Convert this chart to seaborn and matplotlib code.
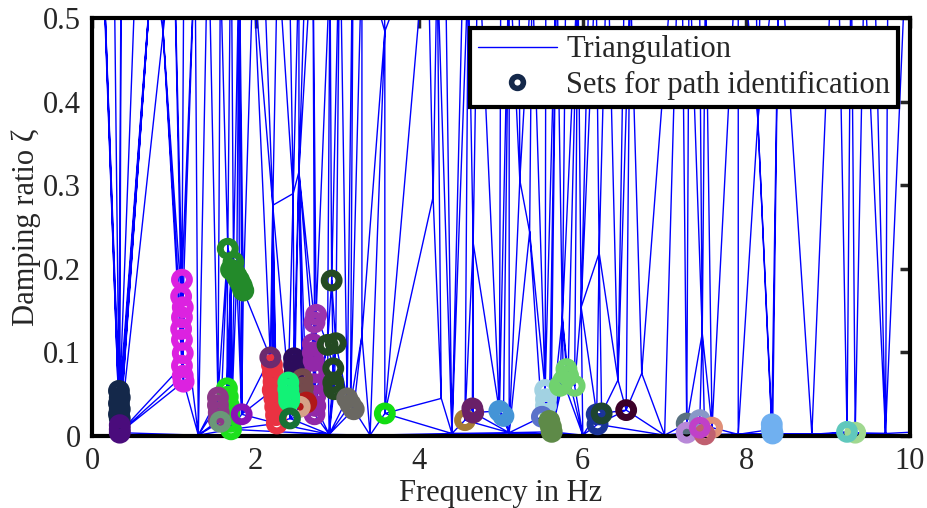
import numpy as np
import matplotlib
matplotlib.use("Agg")
import matplotlib.pyplot as plt
import matplotlib.tri as mtri
from matplotlib.lines import Line2D
import pandas as pd
import seaborn as sns

# colour of each set for path identification (index = set id)
set_colors = [
    "#14284a", "#4a0c7c", "#dc22e0", "#238a2a", "#1ee01e", "#8e3888", "#6a9878",
    "#8a12b6", "#ea3242", "#6c2a6e", "#2c0c5c", "#9228a8", "#744a4c", "#b01818",
    "#d6a288", "#12f276", "#167234", "#9c34ac", "#244a22", "#6a6862", "#12dd12",
    "#a67c36", "#6a2068", "#4494d6", "#a2d2e2", "#5a72ca", "#5e8a48", "#70d26e",
    "#1a3498", "#1e4530", "#3c0028", "#587080", "#b888d8", "#8898c8", "#e09078",
    "#c06070", "#c040c8", "#70b0f0", "#a0d890", "#60c8bc",
]

# poles of the sets (set id, frequency in Hz, damping ratio)
set_id = [0, 0, 0, 0, 0, 0,
          1, 1, 1,
          2, 2, 2, 2, 2, 2, 2, 2, 2, 2,
          3, 3, 3, 3, 3, 3, 3, 3,
          4, 4, 4, 4, 4, 4,
          5, 5, 5, 5,
          6, 7,
          8, 8, 8, 8, 8, 8, 8, 8,
          9,
          10, 10, 10,
          11, 11, 11, 11, 11, 11, 11, 11,
          12, 12, 12,
          13, 14,
          15, 15, 15, 15,
          16,
          17, 17,
          18, 18, 18, 18, 18, 18,
          19, 19, 19,
          20, 21, 22, 22, 23, 23,
          24, 24, 24,
          25,
          26, 26, 26,
          27, 27, 27, 27, 27,
          28, 28, 29, 30, 31, 32, 33, 34, 35, 36,
          37, 37, 37,
          38, 39]
set_freq = [0.33, 0.34, 0.33, 0.34, 0.33, 0.34,
            0.34, 0.34, 0.34,
            1.10, 1.09, 1.11, 1.10, 1.09, 1.10, 1.11, 1.10, 1.11, 1.12,
            1.66, 1.73, 1.70, 1.74, 1.77, 1.80, 1.83, 1.85,
            1.65, 1.66, 1.67, 1.68, 1.69, 1.70,
            1.54, 1.54, 1.55, 1.55,
            1.57, 1.83,
            2.20, 2.21, 2.22, 2.21, 2.23, 2.24, 2.25, 2.26,
            2.18,
            2.47, 2.47, 2.48,
            2.70, 2.70, 2.71, 2.72, 2.72, 2.73, 2.73, 2.72,
            2.57, 2.58, 2.58,
            2.62, 2.54,
            2.40, 2.40, 2.41, 2.41,
            2.42,
            2.74, 2.72,
            2.93, 2.88, 2.98, 2.95, 2.95, 2.96,
            3.12, 3.16, 3.20,
            3.58, 4.56, 4.65, 4.66, 4.98, 5.03,
            5.54, 5.55, 5.55,
            5.50,
            5.59, 5.61, 5.62,
            5.80, 5.82, 5.76, 5.72, 5.90,
            6.17, 6.18, 6.23, 6.53, 7.27, 7.27, 7.43, 7.58, 7.49, 7.43,
            8.31, 8.31, 8.32,
            9.33, 9.23]
set_damp = [0.054, 0.046, 0.039, 0.032, 0.026, 0.021,
            0.013, 0.008, 0.004,
            0.187, 0.167, 0.154, 0.142, 0.128, 0.115, 0.099, 0.084, 0.072, 0.065,
            0.224, 0.208, 0.199, 0.196, 0.191, 0.186, 0.180, 0.174,
            0.057, 0.047, 0.037, 0.027, 0.017, 0.008,
            0.046, 0.037, 0.028, 0.019,
            0.017, 0.026,
            0.085, 0.075, 0.065, 0.055, 0.045, 0.035, 0.025, 0.015,
            0.094,
            0.093, 0.085, 0.077,
            0.110, 0.100, 0.090, 0.076, 0.062, 0.048, 0.036, 0.026,
            0.068, 0.058, 0.048,
            0.040, 0.035,
            0.064, 0.056, 0.048, 0.042,
            0.021,
            0.145, 0.136,
            0.186, 0.109, 0.111, 0.081, 0.064, 0.056,
            0.045, 0.038, 0.032,
            0.027, 0.019, 0.033, 0.028, 0.030, 0.024,
            0.055, 0.044, 0.036,
            0.023,
            0.018, 0.011, 0.005,
            0.080, 0.072, 0.066, 0.060, 0.060,
            0.026, 0.014, 0.027, 0.031, 0.015, 0.004, 0.019, 0.010, 0.002, 0.010,
            0.014, 0.008, 0.003,
            0.004, 0.005]

# remaining (spurious) poles that only enter the triangulation:
# a few inside the view, a low row near zero damping, and the many above 0.5
spur_freq = [0.87, 2.21, 2.46, 2.53, 3.58, 4.17, 4.66, 5.23, 5.35, 6.20, 5.75,
             5.98, 7.46, 6.72, 6.43, 8.14, 4.27, 3.30,
             1.30, 2.90, 3.40, 4.40, 5.10, 6.00, 7.00, 7.90, 8.80, 9.70,
             10.30, 10.50, 10.90,
             0.05, 0.12, 0.18, 0.22, 0.27, 0.31, 0.36, 0.45, 0.55, 0.68,
             0.74, 0.80, 0.86, 0.93, 1.00, 1.06, 1.13, 1.20, 1.26, 1.33,
             1.42, 1.47, 1.52, 1.57, 1.62, 1.70, 1.76, 1.80, 1.86, 1.92,
             1.97, 2.02, 2.08, 2.14, 2.20, 2.27, 2.34, 2.40, 2.47, 2.53,
             2.58, 2.64, 2.70, 2.77, 2.85, 2.91, 2.97, 3.03, 3.10, 3.20,
             3.30, 3.42, 3.55,
             4.10, 4.16, 4.22, 4.30, 4.45, 4.56, 4.60, 4.66, 4.72, 4.80,
             4.90, 5.00, 5.10, 5.17, 5.22, 5.30, 5.38, 5.46, 5.55, 5.62,
             5.68, 5.74, 5.80, 5.88, 5.94, 6.02, 6.10, 6.16, 6.22, 6.30,
             6.40, 6.52, 6.58,
             7.20, 7.30, 7.36, 7.42, 7.50, 7.56, 7.70, 7.90, 8.05, 8.12,
             8.20, 8.40, 9.10, 9.28, 9.36, 9.44, 9.52, 9.75,
             10.05, 10.40, 10.80, 11.20]
spur_damp = [0.483, 0.276, 0.290, 0.316, 0.484, 0.286, 0.231, 0.306, 0.244, 0.219, 0.141,
             0.154, 0.123, 0.075, 0.067, 0.378, 0.045, 0.120,
             0.001, 0.002, 0.001, 0.003, 0.004, 0.001, 0.001, 0.002, 0.002, 0.003,
             0.006, 0.060, 0.040,
             0.80, 0.62, 0.95, 0.70, 0.58, 0.85, 0.66, 0.92, 0.60, 0.75,
             0.57, 0.90, 0.65, 0.78, 0.60, 0.95, 0.68, 0.82, 0.58, 0.74,
             0.62, 0.90, 0.70, 0.56, 0.85, 0.64, 0.78, 0.58, 0.92, 0.66,
             0.56, 0.80, 0.62, 0.95, 0.70, 0.58, 0.86, 0.64, 0.75, 0.57,
             0.90, 0.66, 0.60, 0.84, 0.68, 0.56, 0.79, 0.62, 0.92, 0.70,
             0.58, 0.82, 0.65,
             0.62, 0.88, 0.57, 0.72, 0.95, 0.66, 0.56, 0.82, 0.60, 0.75,
             0.92, 0.64, 0.58, 0.85, 0.62, 0.70, 0.56, 0.90, 0.66, 0.78,
             0.58, 0.86, 0.62, 0.72, 0.56, 0.92, 0.64, 0.57, 0.82, 0.60,
             0.76, 0.62, 0.55,
             0.70, 0.58, 0.85, 0.62, 0.56, 0.76, 0.92, 0.62, 0.80, 0.53,
             0.70, 0.60, 0.70, 0.60, 0.85, 0.56, 0.75, 0.95,
             0.80, 0.65, 0.90, 0.70]

ZETA_WEIGHT = 0.5  # damping axis weight used for the Delaunay step

sns.set_style("white")
plt.rcParams["font.family"] = ["Liberation Serif", "DejaVu Serif"]
plt.rcParams["font.size"] = 22

fig = plt.figure(figsize=(9.27, 5.08), dpi=100)
ax = fig.add_axes([0.0992, 0.1417, 0.8825, 0.8229])

# triangulation over all poles (Delaunay on weighted coords, drawn in data coords)
all_f = np.array(set_freq + spur_freq)
all_z = np.array(set_damp + spur_damp)
tri_w = mtri.Triangulation(all_f, all_z * ZETA_WEIGHT)
tri = mtri.Triangulation(all_f, all_z, tri_w.triangles)
ax.triplot(tri, color="#0000ff", lw=1.0, zorder=2)

# sets drawn as thick rings
df = pd.DataFrame({"set": [f"S{i:02d}" for i in set_id], "freq": set_freq, "damp": set_damp})
pal = {f"S{i:02d}": c for i, c in enumerate(set_colors)}
sns.scatterplot(data=df, x="freq", y="damp", hue="set", palette=pal, legend=False,
                s=115, linewidth=5.0, ax=ax, zorder=4, clip_on=False)
coll = ax.collections[-1]
fc = coll.get_facecolors()
coll.set_edgecolors(fc)
coll.set_facecolors("none")
coll.set_linewidths(5.0)

ax.set_xlim(0, 10)
ax.set_ylim(0, 0.5)
ax.set_xticks([0, 2, 4, 6, 8, 10])
ax.set_yticks([0, 0.1, 0.2, 0.3, 0.4, 0.5])
ax.set_yticklabels(["0", "0.1", "0.2", "0.3", "0.4", "0.5"])
ax.tick_params(direction="in", length=7, width=2.5, top=True, right=True, pad=8, labelsize=22)
for sp in ax.spines.values():
    sp.set_linewidth(3)
    sp.set_color("black")
    sp.set_zorder(3)
ax.set_xlabel("Frequency in Hz", fontsize=22, labelpad=2)
ax.set_ylabel("Damping ratio ζ", fontsize=22)
ax.yaxis.set_label_coords(-0.062, 0.5)

handles = [Line2D([], [], color="#0000ff", lw=1),
           Line2D([], [], marker="o", ls="none", mfc="none", mec="#14284a", mew=4, ms=8.5)]
leg = ax.legend(handles, ["Triangulation", "Sets for path identification"],
                loc="upper right", bbox_to_anchor=(0.985, 0.977), borderaxespad=0,
                fancybox=False, framealpha=1, edgecolor="black", fontsize=22,
                handlelength=2.6, handletextpad=0.3, borderpad=0.25, labelspacing=0.2)
leg.get_frame().set_linewidth(3)
leg.set_zorder(6)

fig.savefig("out.png", dpi=100)
